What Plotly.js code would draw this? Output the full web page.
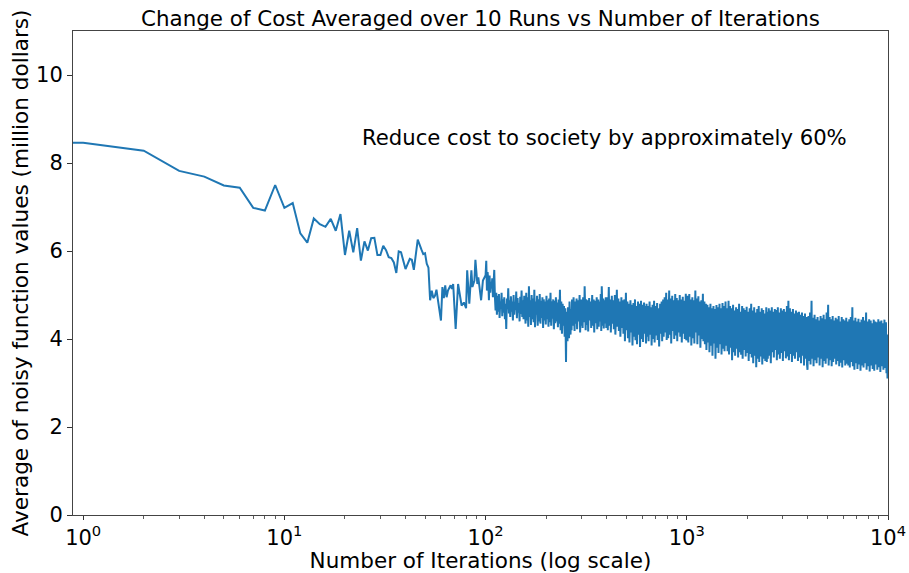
<!DOCTYPE html>
<html>
<head>
<meta charset="utf-8">
<script src="https://cdn.plot.ly/plotly-3.0.1.min.js"></script>
<style>html,body{margin:0;padding:0;background:#fff;}#chart{width:909px;height:573px;}</style>
</head>
<body>
<div id="chart"></div>
<script>
// Early iterations
const earlyIter = [0.89, 1,2,3,4,5,6,7,8,9,10,11,12,13,14,15,16,17,18,19,20,21,22,23,24,25,26,27,28,29,30,
  31,32,33,34,35,36,37,38,40,42,43,44,46,48,49,50,51,52,53,54,55,56,57,58,60,61,62,63,64,65,66,67,68,69,
  71,73,76,78,80,81,83,85,86,88,89,91,92,95,97];
const earlyCost = [8.46, 8.46,8.28,7.82,7.69,7.49,7.44,6.98,6.92,7.50,6.98,7.09,6.40,6.19,6.74,6.61,6.55,6.73,6.46,6.84,5.91,
  6.46,5.97,6.52,5.78,6.22,6.01,6.29,6.30,5.91,5.91,6.12,6.02,5.86,5.84,5.74,5.50,5.99,5.97,5.59,5.82,5.80,5.57,6.26,6.03,
  5.93,5.95,5.71,5.62,4.88,5.10,4.93,4.98,5.12,4.88,4.42,5.18,4.93,5.22,4.95,5.10,5.18,5.22,5.14,5.25,
  4.23,5.25,4.76,4.83,4.70,5.56,4.80,5.56,5.18,5.33,5.80,5.25,5.40,4.88,5.33];

// Dense part: iteration ranges and the values estimated from the band in the picture
const segmentEdges = [100, 158, 251, 398, 631, 1000, 1585, 2512, 3981, 6310, 10000];
const cost100to158 = [5.45,5.78,5.10,5.52,5.33,4.88,5.44,5.05,5.30,5.15,5.38,4.95,5.25,5.57,4.95,4.65,5.05,
  4.55,4.98,4.62,5.02,4.48,4.85,4.70,5.05,4.52,4.90,4.60,4.95,4.45,4.80,4.23,4.92,4.68,5.15,4.58,4.88,
  4.50,4.97,4.62,4.85,4.42,5.00,4.55,4.78,4.66,5.08,4.47,4.93,4.60,4.82,4.40,4.96,4.57,5.10,4.50,4.88,4.45,4.98,4.63];
const cost158to251 = [4.35,5.05,4.42,4.95,4.28,5.20,4.50,4.88,4.32,5.00,4.45,4.92,4.38,5.12,4.27,4.85,4.55,4.98,4.30,4.90,
  4.40,5.02,4.35,4.87,4.48,4.95,4.25,4.90,4.42,4.85,4.33,4.98,4.45,4.88,4.28,4.92,4.38,5.05,4.30,4.86,
  4.46,4.90,4.22,4.87,4.36,4.95,4.40,4.83,4.27,4.90,4.35,5.12,4.20,4.85,4.12,4.80,4.30,4.75,4.05,4.70];
const cost251to398 = [3.48,4.62,4.05,3.95,4.72,4.30,4.02,4.85,4.55,4.10,4.68,4.20,4.90,4.45,4.30,4.95,4.60,4.18,4.85,4.35,
  4.70,4.92,4.22,4.50,4.88,4.40,4.75,5.00,4.15,4.62,4.90,4.30,4.78,4.25,4.95,4.55,4.38,5.20,4.48,4.20,
  4.90,4.65,4.32,4.88,4.17,4.70,4.93,4.42,4.58,4.85,4.25,4.80,5.00,4.30,4.65,4.90,4.15,4.55,4.87,4.36,
  4.72,4.95,4.22,4.60,4.90,4.28,4.85,4.50,4.40,5.02,4.18,5.20,4.55,4.30,4.92,4.24,4.75,4.88,4.35,4.95];
const cost398to631 = [4.25,4.80,4.95,4.20,4.62,5.18,4.30,4.75,4.90,4.15,4.55,4.98,4.35,4.70,4.88,4.22,4.60,5.00,4.10,4.50,
  4.85,5.12,4.28,4.65,4.92,4.18,4.72,4.85,4.05,4.45,4.95,4.25,4.68,4.88,4.12,4.58,4.90,3.95,4.40,5.05,
  4.20,4.75,4.85,4.02,4.52,4.80,3.92,4.35,4.88,4.15,4.62,4.78,3.85,4.30,4.82,4.05,4.55,4.90,3.97,4.48,
  4.75,3.88,4.40,4.85,4.10,4.60,4.80,3.82,4.25,4.87,4.00,4.50,4.78,3.93,4.42,4.83,4.12,4.65,4.75,3.90];
const cost631to1000 = [4.80,4.05,4.45,4.75,3.95,4.30,4.85,4.10,4.55,4.72,3.85,4.40,4.78,4.00,4.60,4.87,3.92,4.35,4.75,4.08,
  4.50,4.82,3.98,4.42,4.70,3.83,4.25,4.80,4.12,4.58,4.85,3.95,4.48,4.90,4.05,4.62,4.95,4.15,4.40,5.05,
  3.98,4.55,4.90,4.02,4.68,5.10,4.10,4.45,4.92,3.90,4.60,4.98,4.18,4.50,4.88,4.00,4.72,5.02,4.08,4.35,
  4.93,3.95,4.58,4.88,4.15,4.45,5.00,4.05,4.65,4.90,3.92,4.40,4.96,4.12,4.55,4.87,4.00,4.70,5.03,3.97];
const cost1000to1585 = [4.10,4.98,4.45,3.92,4.70,5.02,4.05,4.55,4.90,3.85,4.38,4.95,4.02,4.62,4.88,3.90,4.48,5.10,4.15,4.60,
  4.92,3.88,4.40,4.97,4.08,4.58,4.85,3.80,4.30,4.88,4.00,4.65,5.03,3.95,4.45,4.85,3.88,4.52,4.80,3.75,
  4.25,4.78,3.92,4.55,4.72,3.70,4.35,4.80,3.85,4.48,4.70,3.62,4.20,4.75,3.90,4.40,4.68,3.55,4.15,4.77,
  3.80,4.50,4.72,3.68,4.28,4.80,3.88,4.42,4.70,3.65,4.18,4.82,3.78,4.55,4.75,3.72,4.30,4.85,3.85,4.45];
const cost1585to2512 = [4.70,3.72,4.25,4.87,3.65,4.40,4.75,3.80,4.15,4.70,3.52,4.30,4.78,3.70,4.45,4.65,3.62,4.10,4.72,3.78,
  4.35,4.68,3.58,4.20,4.80,3.70,4.50,4.62,3.64,4.05,4.75,3.55,4.38,4.70,3.75,4.25,4.66,3.60,4.42,4.73,
  3.68,4.12,4.62,3.50,4.30,4.70,3.66,4.48,4.80,3.58,4.18,4.65,3.45,4.35,4.72,3.62,4.05,4.60,3.36,4.28,
  4.68,3.55,4.45,4.75,3.48,4.15,4.62,3.60,4.38,4.70,3.42,4.22,4.66,3.55,4.40,4.58,3.50,4.10,4.72,3.48];
const cost2512to3981 = [4.62,3.55,4.20,4.70,3.62,4.35,4.65,3.45,4.10,4.72,3.70,4.40,4.62,3.58,4.25,4.68,3.75,4.05,4.66,3.52,
  4.32,4.72,3.65,4.15,4.60,3.55,4.45,4.70,3.68,4.20,4.65,3.50,4.38,4.68,3.72,4.10,4.62,3.56,4.30,4.75,
  3.60,4.52,4.87,3.52,4.18,4.70,3.66,4.40,4.62,3.48,4.08,4.68,3.62,4.28,4.58,3.55,4.42,4.65,3.70,4.15,
  4.60,3.50,4.35,4.62,3.58,4.05,4.55,3.45,4.25,4.60,3.62,4.12,4.52,3.40,4.30,4.58,3.55,4.02,4.50,3.42];
const cost3981to6310 = [3.30,4.25,4.52,3.50,4.10,4.60,3.42,4.30,4.87,3.55,4.05,4.48,3.38,4.22,4.55,3.52,3.95,4.45,3.45,4.28,
  4.50,3.58,4.00,4.42,3.40,4.18,4.52,3.55,4.35,4.47,3.36,4.08,4.55,3.50,4.25,4.45,3.44,3.98,4.60,3.56,
  4.30,4.78,3.40,4.12,4.50,3.52,4.20,4.45,3.38,4.02,4.52,3.48,4.30,4.42,3.55,4.10,4.48,3.42,4.22,4.45,
  3.50,3.95,4.52,3.38,4.15,4.40,3.46,4.28,4.50,3.35,4.05,4.45,3.52,4.20,4.42,3.40,4.00,4.48,3.44,4.25];
const cost6310to10000 = [4.40,3.40,4.15,4.45,3.35,4.00,4.50,3.48,4.28,4.72,3.38,4.10,4.42,3.30,4.22,4.48,3.45,3.95,4.40,3.32,
  4.18,4.46,3.42,4.05,4.38,3.28,4.25,4.44,3.40,3.90,4.50,3.35,4.12,4.42,3.45,4.30,4.60,3.30,4.02,4.40,
  3.38,4.20,4.45,3.26,3.98,4.42,3.40,4.15,4.36,3.32,4.08,4.44,3.28,4.25,4.40,3.42,3.92,4.38,3.30,4.18,
  4.45,3.36,4.05,4.40,3.25,4.22,4.42,3.38,3.95,4.36,3.30,4.12,4.44,3.34,4.28,4.38,3.22,4.10,3.10,4.00];
const segmentCosts = [cost100to158, cost158to251, cost251to398, cost398to631, cost631to1000,
  cost1000to1585, cost1585to2512, cost2512to3981, cost3981to6310, cost6310to10000];

const majorTicks = [1, 10, 100, 1000, 10000];
const majorTickText = ['10<sup>0</sup>', '10<sup>1</sup>', '10<sup>2</sup>', '10<sup>3</sup>', '10<sup>4</sup>'];
const minorTicks = [];
[1, 10, 100, 1000].forEach(d => { for (let k = 2; k <= 9; k++) minorTicks.push(k * d); });
const yTicks = [0, 2, 4, 6, 8, 10];

const titleText = 'Change of Cost Averaged over 10 Runs vs Number of Iterations';
const noteText = 'Reduce cost to society by approximately 60%';
const noteX = 23.8, noteY = 8.57;

// Place each segment's samples log-evenly inside its iteration range
const xs = earlyIter.slice();
const ys = earlyCost.slice();
segmentCosts.forEach((vals, k) => {
  const a = segmentEdges[k], b = segmentEdges[k + 1];
  const last = k === segmentCosts.length - 1;
  const n = vals.length;
  vals.forEach((v, i) => {
    const t = last ? i / (n - 1) : i / n;
    xs.push(a * Math.pow(b / a, t));
    ys.push(v);
  });
});

const font = {family: 'DejaVu Sans, sans-serif', color: '#000'};

Plotly.newPlot('chart', [{
  x: xs, y: ys, type: 'scatter', mode: 'lines',
  line: {color: '#1f77b4', width: 2},
  hoverinfo: 'skip'
}], {
  width: 909, height: 573,
  margin: {l: 73, r: 21, t: 31, b: 58, pad: 0},
  paper_bgcolor: '#fff', plot_bgcolor: '#fff',
  showlegend: false,
  font: Object.assign({size: 21}, font),
  title: {text: titleText, font: Object.assign({size: 21.4}, font),
          x: 0.5, xanchor: 'center', y: 0.968, yanchor: 'middle', xref: 'paper', yref: 'container'},
  xaxis: {
    type: 'log', range: [Math.log10(0.89), 4],
    tickmode: 'array', tickvals: majorTicks, ticktext: majorTickText,
    ticks: 'outside', ticklen: 4, tickwidth: 1, tickcolor: '#333',
    minor: {tickmode: 'array', tickvals: minorTicks, ticks: 'outside', ticklen: 2.5, tickwidth: 0.8, tickcolor: '#333', showgrid: false},
    showgrid: false, zeroline: false,
    showline: true, mirror: true, linecolor: '#444', linewidth: 1,
    tickfont: Object.assign({size: 21}, font),
    title: {text: 'Number of Iterations (log scale)', font: Object.assign({size: 21.5}, font), standoff: 5},
    automargin: false
  },
  yaxis: {
    range: [0, 11],
    tickmode: 'array', tickvals: yTicks,
    ticks: 'outside', ticklen: 5, tickwidth: 1, tickcolor: '#333',
    showgrid: false, zeroline: false,
    showline: true, mirror: true, linecolor: '#444', linewidth: 1,
    tickfont: Object.assign({size: 21}, font),
    title: {text: 'Average of noisy function values (million dollars)', font: Object.assign({size: 21.6}, font), standoff: 1},
    automargin: false
  },
  annotations: [{
    text: noteText, x: Math.log10(noteX), y: noteY, xref: 'x', yref: 'y',
    xanchor: 'left', yanchor: 'middle', showarrow: false,
    font: Object.assign({size: 21.2}, font)
  }]
}, {displayModeBar: false, staticPlot: true});
</script>
</body>
</html>
